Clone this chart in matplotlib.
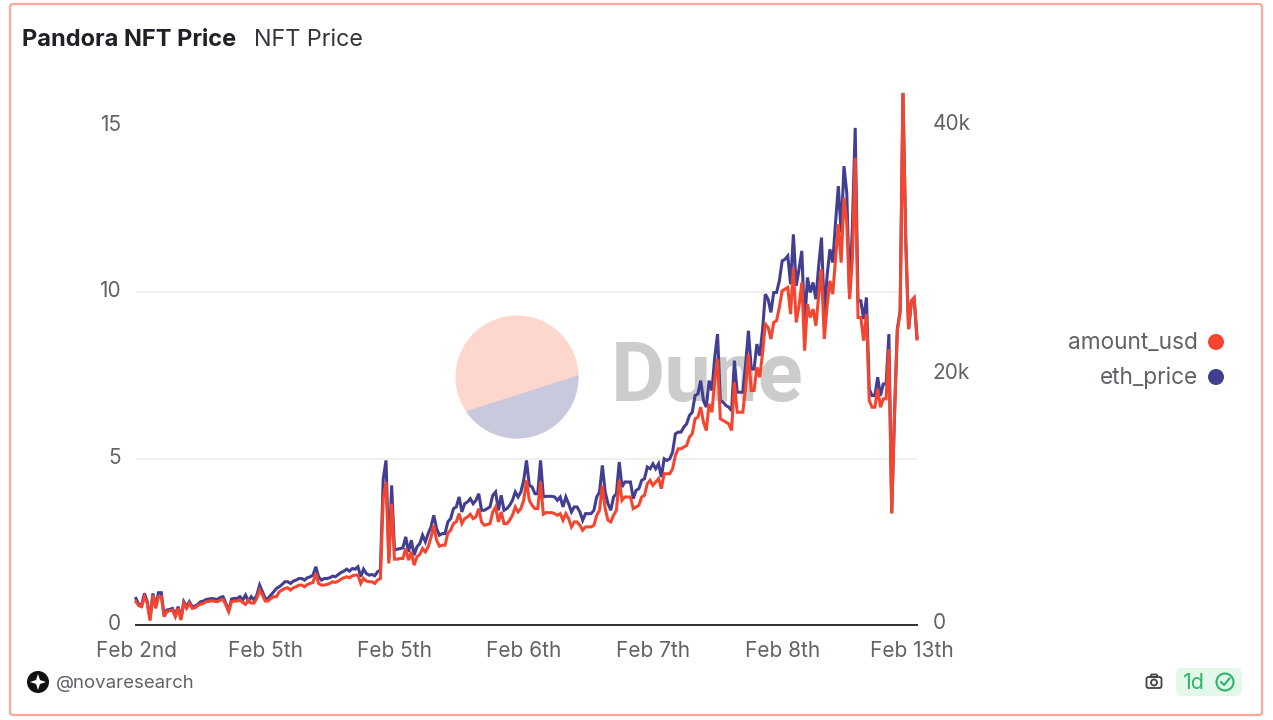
import numpy as np
import matplotlib
matplotlib.use('Agg')
import matplotlib.pyplot as plt
from matplotlib.patches import Circle, FancyBboxPatch, Polygon
from matplotlib.lines import Line2D
from matplotlib.transforms import ScaledTranslation

plt.rcParams['font.family'] = ['Inter', 'DejaVu Sans']

# left axis, usd
amount_usd = [
    .7, .58, .55, .85, .65, .13, .9, .5, .85, .85,
    .25, .4, .43, .45, .25, .5, .15, .65, .5, .65,
    .5, .52, .58, .63, .65, .7, .71, .73, .71, .7,
    .75, .77, .6, .4, .7, .72, .72, .75, .68, .62,
    .75, .66, .66, .8, 1.05, .9, .72, .72, .8, .85,
    .85, 1.0, 1.05, 1.1, 1.12, 1.05, 1.12, 1.15, 1.2, 1.2,
    1.15, 1.22, 1.25, 1.28, 1.55, 1.25, 1.2, 1.2, 1.22, 1.25,
    1.3, 1.28, 1.32, 1.38, 1.42, 1.45, 1.42, 1.48, 1.5, 1.5,
    1.25, 1.4, 1.32, 1.3, 1.3, 1.25, 1.35, 1.4, 3.8, 4.3,
    1.85, 3.65, 1.98, 1.98, 2.0, 2.0, 2.3, 1.95, 2.2, 1.8,
    2.05, 2.12, 2.3, 2.2, 2.35, 2.63, 3.0, 2.55, 2.37, 2.4,
    2.4, 2.76, 2.85, 3.05, 3.1, 3.35, 3.05, 3.2, 3.25, 3.33,
    3.2, 3.25, 3.5, 3.1, 3.0, 3.02, 3.05, 3.4, 3.55, 3.1,
    3.4, 3.05, 3.05, 3.15, 3.3, 3.55, 3.4, 3.5, 3.75, 4.35,
    3.75, 3.6, 3.5, 3.5, 4.3, 3.33, 3.38, 3.38, 3.38, 3.35,
    3.3, 3.35, 3.15, 3.35, 3.2, 2.95, 3.1, 3.1, 3.0, 2.85,
    2.95, 2.95, 2.95, 3.0, 3.3, 3.45, 4.2, 3.5, 3.15, 3.1,
    3.3, 3.45, 4.35, 3.75, 3.85, 3.85, 3.85, 3.5, 3.55, 3.6,
    3.85, 3.9, 4.25, 4.35, 4.2, 4.3, 4.4, 4.1, 4.55, 4.55,
    4.55, 4.7, 5.1, 5.3, 5.3, 5.35, 5.4, 5.65, 5.75, 6.2,
    6.25, 6.55, 6.1, 5.85, 6.65, 6.4, 7.35, 8.0, 6.2, 6.15,
    6.1, 6.05, 5.85, 7.3, 6.4, 6.4, 6.4, 7.15, 8.15, 7.05,
    7.05, 7.75, 7.45, 8.15, 9.05, 8.95, 8.6, 9.1, 9.15, 9.55,
    10.05, 10.1, 10.15, 9.35, 10.75, 9.1, 9.6, 10.3, 8.25, 9.65,
    9.25, 9.5, 9.0, 9.9, 10.7, 8.6, 9.6, 10.35, 9.95, 11.0,
    12.05, 10.9, 12.85, 12.1, 9.8, 11.0, 14.05, 9.25, 9.25, 8.55,
    9.35, 6.75, 6.55, 6.55, 7.1, 6.55, 6.8, 6.8, 8.3, 3.35,
    6.3, 8.85, 9.4, 16.0, 11.5, 8.9, 9.75, 9.85, 8.6,
]

# right axis, thousands
eth_price_k = [
    2.13, 1.65, 1.60, 2.53, 1.87, .53, 2.53, 1.47, 2.59, 2.59,
    .8, 1.2, 1.25, 1.33, .8, 1.47, .53, 1.87, 1.47, 1.87,
    1.47, 1.52, 1.65, 1.87, 1.92, 2.05, 2.08, 2.13, 2.08, 2.05,
    2.21, 2.27, 1.73, 1.12, 2.08, 2.13, 2.13, 2.27, 2.0, 2.4,
    1.92, 2.27, 2.0, 2.4, 3.2, 2.67, 2.13, 2.13, 2.4, 2.67,
    2.93, 3.07, 3.25, 3.47, 3.47, 3.33, 3.52, 3.6, 3.73, 3.73,
    3.6, 3.79, 3.87, 4.0, 4.67, 3.87, 3.6, 3.73, 3.73, 3.79,
    3.92, 3.87, 4.05, 4.21, 4.32, 4.48, 4.32, 4.53, 4.48, 4.67,
    3.87, 4.48, 4.13, 4.0, 4.05, 3.95, 4.27, 4.4, 11.73, 13.2,
    5.33, 11.2, 6.0, 6.08, 6.13, 6.19, 7.07, 5.87, 6.8, 5.6,
    6.27, 6.53, 7.2, 6.67, 7.33, 7.87, 8.8, 7.73, 7.2, 7.33,
    7.33, 8.27, 8.53, 9.33, 9.47, 10.27, 9.07, 9.73, 9.87, 10.13,
    9.73, 10.0, 10.53, 9.2, 9.2, 9.33, 9.47, 10.4, 10.67, 9.2,
    10.4, 9.2, 9.33, 9.6, 10.0, 10.67, 10.27, 10.67, 11.6, 13.2,
    11.2, 11.07, 10.53, 10.53, 13.2, 10.27, 10.32, 10.32, 10.32, 10.27,
    10.0, 10.27, 9.47, 10.27, 9.73, 9.07, 9.47, 9.47, 9.07, 8.4,
    8.93, 8.93, 8.93, 9.2, 10.27, 10.67, 12.8, 10.67, 9.73, 9.2,
    10.27, 10.53, 13.07, 11.07, 11.47, 11.47, 11.47, 10.13, 10.8, 10.93,
    11.6, 11.73, 12.67, 12.53, 12.93, 12.53, 12.93, 11.87, 13.33, 13.2,
    13.33, 13.87, 15.33, 15.47, 15.47, 15.87, 16.13, 16.8, 17.07, 18.4,
    18.53, 19.6, 18.0, 17.47, 19.6, 18.8, 21.47, 23.33, 18.0, 17.87,
    17.6, 17.47, 17.2, 21.2, 18.67, 18.67, 18.67, 20.93, 23.6, 20.53,
    20.53, 22.53, 21.6, 23.6, 26.53, 26.13, 25.07, 26.67, 26.67, 27.6,
    29.2, 29.33, 29.6, 27.33, 31.33, 27.2, 28.53, 30.0, 24.0, 27.87,
    26.67, 27.47, 26.13, 28.8, 31.07, 24.93, 28.0, 30.13, 29.07, 32.27,
    35.2, 31.47, 36.8, 34.67, 26.4, 32.0, 39.87, 26.0, 26.0, 24.53,
    26.27, 18.93, 18.4, 18.4, 19.87, 18.4, 19.33, 19.33, 23.33, 9.07,
    17.07, 23.73, 25.2, 42.67, 30.93, 23.73, 25.9, 26.1, 23.07,
]

date_labels = ['Feb 2nd', 'Feb 5th', 'Feb 5th', 'Feb 6th', 'Feb 7th', 'Feb 8th', 'Feb 13th']
left_ticks = [0, 5, 10, 15]
right_ticks = [0, 20000, 40000]
right_labels = ['0', '20k', '40k']

RED = '#f4452f'
BLUE = '#423f92'
GREY = '#5f6368'

W, H = 1273, 720
fig = plt.figure(figsize=(W / 100, H / 100), dpi=100)

# page layer in pixel coords, y up
bg = fig.add_axes([0, 0, 1, 1], zorder=0)
bg.set_xlim(0, W)
bg.set_ylim(0, H)
bg.axis('off')
bg.add_patch(FancyBboxPatch((10, 5), 1252, 711, boxstyle='round,pad=0,rounding_size=3',
                            fc='white', ec='#fba898', lw=1.6))

# watermark
disc = Circle((517, 343), 61.5, fc='#fdd7cd', ec='none')
bg.add_patch(disc)
lower = Polygon([(467, 309), (579, 345), (600, 250), (440, 250)], fc='#c9c9de', ec='none')
bg.add_patch(lower)
lower.set_clip_path(disc)
bg.text(611, 342, 'Dune', fontsize=60, fontweight='bold', family='Roboto', color='#cccccc',
        va='center', ha='left')

# titles
bg.text(22, 680, 'Pandora NFT Price', fontsize=17, fontweight='bold', color='#1f2126', va='center')
bg.text(254, 680, 'NFT Price', fontsize=16.8, color='#33363b', va='center')

# legend
for y, name, c in [(377, 'amount_usd', RED), (342, 'eth_price', BLUE)]:
    bg.text(1198, y, name, fontsize=16.3, color=GREY, va='center', ha='right')
    bg.add_patch(Circle((1216, y + 1), 8, fc=c, ec='none'))

# footer
bg.add_patch(Circle((38, 38), 11, fc='#111111', ec='none'))
bg.add_patch(Polygon([(38, 46), (40, 40), (46, 38), (40, 36), (38, 30), (36, 36), (30, 38), (36, 40)],
                     fc='white', ec='none'))
bg.text(56, 37, '@novaresearch', fontsize=13.4, color=GREY, va='center')

# camera icon
bg.add_patch(FancyBboxPatch((1146.5, 32), 15, 11, boxstyle='round,pad=0,rounding_size=2',
                            fc='none', ec='#444444', lw=1.3))
bg.add_patch(Polygon([(1150, 43), (1151.5, 45.5), (1156.5, 45.5), (1158, 43)], fc='none', ec='#444444', lw=1.3))
bg.add_patch(Circle((1154, 37.5), 3, fc='none', ec='#444444', lw=1.3))

# refresh badge
bg.add_patch(FancyBboxPatch((1176, 24), 66, 28, boxstyle='round,pad=0,rounding_size=6',
                            fc='#e3f8ea', ec='none'))
bg.text(1183, 37, '1d', fontsize=15.5, color='#2bb56b', va='center')
bg.add_patch(Circle((1225, 38), 8.5, fc='none', ec='#2bb56b', lw=1.5))
bg.add_line(Line2D([1221, 1224, 1229.5], [38, 35, 41.5], color='#2bb56b', lw=1.5))

# chart
x = np.arange(len(amount_usd))
ax = fig.add_axes([136 / W, 95 / H, 781 / W, 532 / H], zorder=2)
ax2 = ax.twinx()
ax2.set_zorder(1)
ax.set_zorder(2)
ax.patch.set_visible(False)
ax2.patch.set_visible(False)

ax2.plot(x, np.array(eth_price_k) * 1000, color=BLUE, lw=2.2, solid_joinstyle='miter', clip_on=False)
ax.plot(x, amount_usd, color=RED, lw=2.2, solid_joinstyle='miter', clip_on=False)

ax.set_xlim(0, len(amount_usd) - 1)
ax.set_ylim(0, 16)
ax2.set_ylim(0, 16 * 40000 / 15)

ax.set_xticks(np.arange(len(date_labels)) * 46)
ax.set_xticklabels(date_labels)
ax.set_yticks(left_ticks)
ax2.set_yticks(right_ticks)
ax2.set_yticklabels(right_labels)

# grid sits under both lines
ax2.set_yticks([40000 / 3, 80000 / 3, 40000], minor=True)
ax2.grid(which='minor', axis='y', color='#ececec', lw=1.2)
ax2.tick_params(which='minor', length=0)

ax.tick_params(axis='x', length=0, labelsize=15, labelcolor=GREY, pad=11.5)
ax.tick_params(axis='y', length=0, labelsize=15, labelcolor=GREY, pad=11)
ax2.tick_params(axis='y', length=0, labelsize=15, labelcolor=GREY, pad=11)
for a in (ax, ax2):
    for s in ('top', 'left', 'right'):
        a.spines[s].set_visible(False)
    a.spines['bottom'].set_color('#333333')
    a.spines['bottom'].set_linewidth(1.3)

# y labels sit a little above their gridlines
for lab in ax.get_yticklabels():
    lab.set_transform(lab.get_transform() + ScaledTranslation(0, 2.2 / 72, fig.dpi_scale_trans))
for lab in ax2.get_yticklabels():
    lab.set_transform(lab.get_transform() + ScaledTranslation(0, 3 / 72, fig.dpi_scale_trans))

fig.savefig('out.png', dpi=100, facecolor='white')
